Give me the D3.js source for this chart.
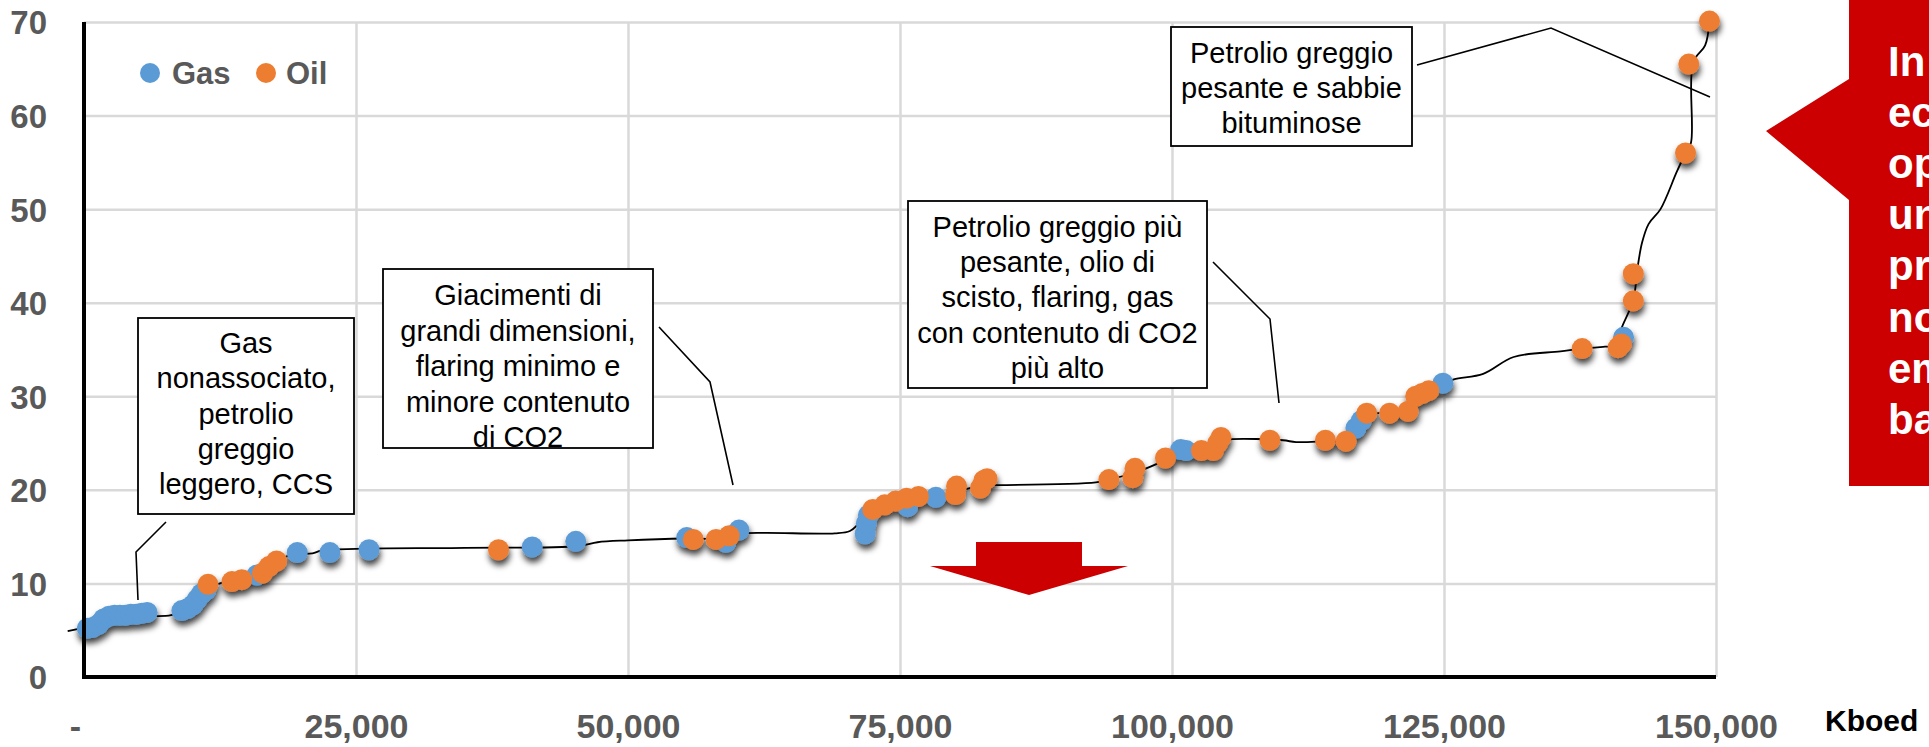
<!DOCTYPE html>
<html>
<head>
<meta charset="utf-8">
<script src="https://cdn.jsdelivr.net/npm/d3@7/dist/d3.min.js"></script>
<style>
  html, body { margin: 0; padding: 0; background: #ffffff; overflow: hidden; }
  svg { display: block; font-family: "Liberation Sans", Arial, sans-serif; }
</style>
</head>
<body>
<script>
// ---------------- DATA ----------------
const xTicks = [0, 25000, 50000, 75000, 100000, 125000, 150000];
const yTicks = [0, 10, 20, 30, 40, 50, 60, 70];
const seriesNames = ["Gas", "Oil"];

// Gas fields [Kboed cumulative, intensity]
const gasPoints = [
  [300, 5.2], [800, 5.3], [1300, 5.6], [1800, 6.2], [2300, 6.5], [2800, 6.6],
  [3300, 6.6], [3800, 6.6], [4300, 6.7], [4800, 6.7], [5300, 6.8], [5800, 6.9],
  [9000, 7.1], [9500, 7.3], [10000, 7.7], [10400, 8.3], [10800, 8.9], [11200, 9.3],
  [15900, 10.9], [19600, 13.3], [22600, 13.3], [26200, 13.6], [41200, 13.9], [45200, 14.5],
  [55400, 14.9], [59000, 14.4], [60200, 15.7],
  [71800, 15.3], [71900, 16.4], [72100, 17.3], [75700, 18.2], [78300, 19.2],
  [100800, 24.3], [101300, 24.2],
  [116900, 26.6], [117400, 27.4], [124900, 31.4],
  [141500, 36.3]
];

// Oil fields
const oilPoints = [
  [11400, 9.9], [13600, 10.2], [14500, 10.4], [16400, 11.1], [17000, 11.8], [17700, 12.4],
  [38100, 13.6], [56000, 14.7], [58100, 14.7], [59300, 15.1],
  [72500, 17.9], [73600, 18.4], [74600, 18.8], [75600, 19.1], [76700, 19.3],
  [80100, 19.5], [80200, 20.4], [82400, 20.2], [82700, 21.0], [83000, 21.2],
  [94200, 21.1], [96400, 21.3], [96600, 22.3], [99400, 23.4],
  [102700, 24.2], [103800, 24.2], [104200, 25.0], [104500, 25.6],
  [109000, 25.3], [114100, 25.3], [116000, 25.2],
  [117900, 28.2], [120000, 28.2], [121700, 28.4], [122400, 30.0], [123000, 30.3], [123600, 30.6],
  [137700, 35.1], [141000, 35.2], [141300, 35.6], [142400, 40.2], [142400, 43.1],
  [147200, 56.0], [147500, 65.5], [149400, 70.1]
];

// supply curve drawn through the fields
const curvePoints = [
  [-1500, 4.9], [500, 5.5], [1500, 6.0], [3000, 6.4], [6000, 6.5], [8000, 6.6],
  [9500, 7.3], [11000, 9.2], [13000, 10.2], [15000, 10.6], [16500, 11.3], [18000, 12.6],
  [19500, 13.1], [21000, 13.2], [21800, 13.5], [25000, 13.7], [35000, 13.8], [45500, 14.0],
  [47200, 14.4], [50000, 14.6], [55300, 14.8], [58000, 14.8], [60200, 15.3], [62500, 15.4],
  [69000, 15.35], [70400, 15.6], [71300, 16.5], [72500, 17.8], [74500, 18.6], [76700, 19.1],
  [78300, 19.3], [80200, 19.8], [82600, 20.5], [83900, 20.5], [93000, 20.8], [94200, 21.1],
  [96500, 21.8], [99400, 23.2], [100800, 24.1], [102700, 24.4], [104100, 25.1], [105300, 25.4],
  [110200, 25.3], [111400, 25.1], [114100, 25.2], [116000, 25.3], [117000, 26.5], [117900, 28.0],
  [120000, 28.2], [121700, 28.4], [122500, 29.9], [123600, 30.4], [124900, 31.3], [125900, 31.8],
  [128600, 32.4], [131400, 34.2], [135700, 34.8], [137700, 35.1], [139800, 35.3], [141000, 35.4],
  [141300, 37.2], [141900, 38.8], [142400, 40.2], [142800, 43.8], [143200, 46.4], [143800, 48.4],
  [144900, 50.0], [146400, 54.0], [147200, 56.0], [147700, 57.1], [147900, 65.7], [149000, 67.5],
  [149400, 70.1]
];

// annotation texts
const noteGas = ["Gas", "nonassociato,", "petrolio", "greggio", "leggero, CCS"];
const noteGiac = ["Giacimenti di", "grandi dimensioni,", "flaring minimo e", "minore contenuto", "di CO2"];
const notePesante = ["Petrolio greggio più", "pesante, olio di", "scisto, flaring, gas", "con contenuto di CO2", "più alto"];
const noteBitum = ["Petrolio greggio", "pesante e sabbie", "bituminose"];
const calloutLines = ["In", "ec", "op", "un", "pr", "no", "em", "ba"];
const unitLabel = "Kboed";

// ---------------- LAYOUT / STYLE ----------------
const W = 1929, H = 747;
const BLUE = "#5b9bd5", ORANGE = "#ed7d31", RED = "#cc0000", GRID = "#d9d9d9", TICK = "#595959";
const FONT = "'Liberation Sans', Arial, sans-serif";

const svg = d3.select("body").append("svg").attr("width", W).attr("height", H);

const defs = svg.append("defs");
const f = defs.append("filter").attr("id", "shadow")
  .attr("x", "-10%").attr("y", "-10%").attr("width", "120%").attr("height", "130%");
f.append("feDropShadow").attr("dx", 1).attr("dy", 5).attr("stdDeviation", 3)
  .attr("flood-color", "#000").attr("flood-opacity", 0.75);

const x = d3.scaleLinear().domain([0, 150000]).range([84, 1716]);
const y = d3.scaleLinear().domain([0, 70]).range([677, 22]);

// gridlines
const grid = svg.append("g");
grid.append("g").attr("transform", `translate(0,${y(0)})`)
  .call(d3.axisBottom(x).tickValues(xTicks.filter(d => d > 0)).tickSize(-(y(0) - y(70))).tickFormat(""))
  .call(g => g.select(".domain").remove())
  .call(g => g.selectAll("line").attr("stroke", GRID).attr("stroke-width", 2.5));
grid.append("g").attr("transform", `translate(${x(0)},0)`)
  .call(d3.axisLeft(y).tickValues(yTicks.filter(d => d > 0)).tickSize(-(x(150000) - x(0))).tickFormat(""))
  .call(g => g.select(".domain").remove())
  .call(g => g.selectAll("line").attr("stroke", GRID).attr("stroke-width", 2.5));

// tick labels
const fmt = d3.format(",");
svg.append("g").attr("transform", `translate(0,${y(0)})`)
  .call(d3.axisBottom(x).tickValues(xTicks).tickSize(0).tickFormat(d => d === 0 ? "-" : fmt(d)))
  .call(g => g.select(".domain").remove())
  .call(g => g.selectAll("text")
    .attr("y", 61).attr("dy", null)
    .attr("dx", d => d === 0 ? -9 : 0)
    .attr("fill", TICK).attr("font-family", FONT).attr("font-weight", "bold").attr("font-size", 34));

svg.append("g").attr("transform", `translate(${x(0)},0)`)
  .call(d3.axisLeft(y).tickValues(yTicks).tickSize(0).tickPadding(37))
  .call(g => g.select(".domain").remove())
  .call(g => g.selectAll("text")
    .attr("dy", "0.36em")
    .attr("fill", TICK).attr("font-family", FONT).attr("font-weight", "bold").attr("font-size", 33));

svg.append("text").attr("x", 1825).attr("y", 731).text(unitLabel)
  .attr("font-family", FONT).attr("font-weight", "bold").attr("font-size", 30).attr("fill", "#000");

// supply curve
const line = d3.line().x(d => x(d[0])).y(d => y(d[1])).curve(d3.curveCatmullRom.alpha(0.5));
svg.append("path").datum(curvePoints).attr("d", line)
  .attr("fill", "none").attr("stroke", "#000").attr("stroke-width", 1.8);

// points
const pts = svg.append("g").attr("filter", "url(#shadow)");
pts.selectAll("circle.gas").data(gasPoints).join("circle").attr("class", "gas")
  .attr("cx", d => x(d[0])).attr("cy", d => y(d[1])).attr("r", 10.5).attr("fill", BLUE);
pts.selectAll("circle.oil").data(oilPoints).join("circle").attr("class", "oil")
  .attr("cx", d => x(d[0])).attr("cy", d => y(d[1])).attr("r", 10.5).attr("fill", ORANGE);

// axis lines
svg.append("line").attr("x1", x(0)).attr("x2", x(0)).attr("y1", y(70)).attr("y2", y(0) + 2)
  .attr("stroke", "#000").attr("stroke-width", 4);
svg.append("line").attr("x1", x(0) - 2).attr("x2", x(150000)).attr("y1", y(0)).attr("y2", y(0))
  .attr("stroke", "#000").attr("stroke-width", 4);

// legend
const legend = svg.append("g");
const legItems = [{ name: seriesNames[0], color: BLUE, cx: 150, tx: 172 }, { name: seriesNames[1], color: ORANGE, cx: 266, tx: 286 }];
legItems.forEach(it => {
  legend.append("circle").attr("cx", it.cx).attr("cy", 73).attr("r", 10).attr("fill", it.color);
  legend.append("text").attr("x", it.tx).attr("y", 84).text(it.name)
    .attr("font-family", FONT).attr("font-weight", "bold").attr("font-size", 31).attr("fill", TICK);
});

// annotation boxes
function noteBox(lines, x0, y0, x1, y1, firstBase, step, leader) {
  const g = svg.append("g");
  g.append("path").attr("d", d3.line()(leader)).attr("fill", "none").attr("stroke", "#000").attr("stroke-width", 1.6);
  g.append("rect").attr("x", x0).attr("y", y0).attr("width", x1 - x0).attr("height", y1 - y0)
    .attr("fill", "#fff").attr("stroke", "#000").attr("stroke-width", 1.8);
  g.selectAll("text").data(lines).join("text")
    .attr("x", (x0 + x1) / 2).attr("y", (d, i) => firstBase + i * step)
    .attr("text-anchor", "middle").attr("font-family", FONT).attr("font-size", 29).attr("fill", "#000")
    .text(d => d);
}
noteBox(noteGas, 138, 318, 354, 514, 353, 35.3, [[166, 522], [136, 552], [138, 600]]);
noteBox(noteGiac, 383, 269, 653, 448, 305, 35.5, [[659, 327], [710, 382], [733, 485]]);
noteBox(notePesante, 908, 201, 1207, 388, 237, 35.2, [[1213, 262], [1270, 319], [1279, 403]]);
noteBox(noteBitum, 1171, 27, 1412, 146, 63, 35, [[1417, 65], [1551, 28], [1710, 97]]);

// red down arrow
svg.append("polygon")
  .attr("points", [[976, 542], [1082, 542], [1082, 566], [1128, 566], [1029, 595], [930, 566], [976, 566]].join(" "))
  .attr("fill", RED);

// red callout (cut by the right edge, as in the source slide)
svg.append("path")
  .attr("d", "M1849,0 L1940,0 L1940,486 L1849,486 L1849,200 L1766,131 L1849,79 Z")
  .attr("fill", RED);
svg.append("g").selectAll("text").data(calloutLines).join("text")
  .attr("x", 1888).attr("y", (d, i) => 76 + i * 51.1)
  .attr("font-family", FONT).attr("font-weight", "bold").attr("font-size", 42).attr("fill", "#fff")
  .text(d => d);
</script>
</body>
</html>
